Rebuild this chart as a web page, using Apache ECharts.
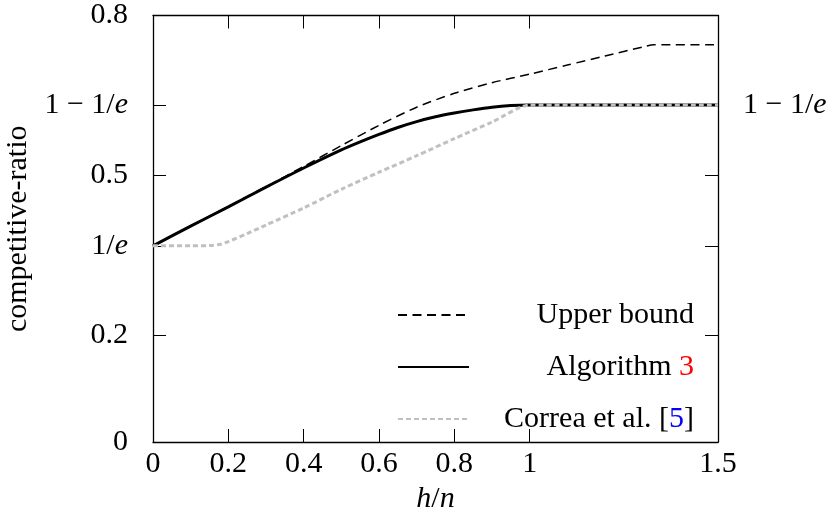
<!DOCTYPE html>
<html>
<head>
<meta charset="utf-8">
<script src="https://cdn.jsdelivr.net/npm/echarts@6/dist/echarts.min.js"></script>
<style>html,body{margin:0;padding:0;background:#fff}#c{width:835px;height:516px}</style>
</head>
<body>
<div id="c"></div>
<script>
// ---- data ----
const E1 = 1 / Math.E;           // 1/e
const E2 = 1 - 1 / Math.E;       // 1 - 1/e
const upperX = [0, 0.1, 0.2, 0.3, 0.4, 0.5, 0.6, 0.7, 0.8, 0.9, 1.0, 1.1, 1.2, 1.3, 1.33, 1.5];
const upperY = [0.368, 0.405, 0.442, 0.479, 0.517, 0.556, 0.594, 0.628, 0.654, 0.674, 0.690, 0.707, 0.724, 0.741, 0.745, 0.745];
const algoX = [0, 0.1, 0.2, 0.3, 0.4, 0.5, 0.55, 0.6, 0.65, 0.7, 0.75, 0.8, 0.85, 0.9, 0.95, 1.0, 1.5];
const algoY = [0.368, 0.405, 0.441, 0.478, 0.514, 0.548, 0.563, 0.577, 0.590, 0.601, 0.610, 0.617, 0.623, 0.628, 0.631, 0.632, 0.632];
const correaX = [0, 0.1, 0.15, 0.18, 0.2, 0.25, 0.3, 0.4, 0.5, 0.6, 0.7, 0.8, 0.9, 1.0, 1.5];
const correaY = [0.368, 0.368, 0.3685, 0.371, 0.376, 0.391, 0.407, 0.439, 0.474, 0.506, 0.537, 0.569, 0.600, 0.632, 0.632];
const xTicks = [0, 0.2, 0.4, 0.6, 0.8, 1, 1.5];
const yTicks = [0, 0.2, E1, 0.5, E2, 0.8];
const yTicksRight = [0.2, E1, 0.5, E2];
const yLabelsRight = [E2];
const seriesNames = ['Upper bound', 'Algorithm 3', 'Correa et al. [5]'];

const pairs = (xs, ys) => xs.map((x, i) => [x, ys[i]]);
const FONT = 'Liberation Serif';
const FS = 30;
const rich = {
  t: { fontFamily: FONT, fontSize: FS, color: '#000', align: 'right' },
  i: { fontFamily: FONT, fontSize: FS, color: '#000', fontStyle: 'italic', align: 'right' },
  r: { fontFamily: FONT, fontSize: FS, color: '#ff0000', align: 'right' },
  b: { fontFamily: FONT, fontSize: FS, color: '#0000ff', align: 'right' }
};
const near = (a, b) => Math.abs(a - b) < 1e-6;
function yFmt(v) {
  if (near(v, E1)) return '{t|1/}{i|e}';
  if (near(v, E2)) return '{t|1 − 1/}{i|e}';
  return '{t|' + String(Math.round(v * 10) / 10) + '}';
}
const legendFmt = {
  'Upper bound': '{t|Upper bound}',
  'Algorithm 3': '{t|Algorithm }{r|3}',
  'Correa et al. [5]': '{t|Correa et al. [}{b|5}{t|]}'
};

const chart = echarts.init(document.getElementById('c'), null, { renderer: 'canvas' });
const axLine = { show: true, onZero: false, lineStyle: { color: '#000', width: 1.3 } };
const tick = (vals) => ({ show: true, inside: true, length: 13, customValues: vals, lineStyle: { color: '#000', width: 1 } });

chart.setOption({
  animation: false,
  backgroundColor: '#fff',
  grid: { left: 153, top: 15.5, right: 117, bottom: 74, containLabel: false, outerBoundsMode: 'none' },
  xAxis: [
    {
      type: 'value', min: 0, max: 1.5, position: 'bottom',
      axisLine: axLine, axisTick: tick(xTicks), splitLine: { show: false },
      axisLabel: { customValues: xTicks, margin: 7, formatter: v => '{t|' + v + '}', rich: rich },
      name: '{i|h}{t|/}{i|n}', nameLocation: 'middle', nameGap: 42,
      nameTextStyle: { rich: rich }
    },
    {
      type: 'value', min: 0, max: 1.5, position: 'top',
      axisLine: axLine, axisTick: tick(xTicks), splitLine: { show: false },
      axisLabel: { show: false }
    }
  ],
  yAxis: [
    {
      type: 'value', min: 0, max: 0.8, position: 'left',
      axisLine: axLine, axisTick: tick(yTicks), splitLine: { show: false },
      axisLabel: { customValues: yTicks, margin: 25, formatter: yFmt, rich: rich },
      name: 'competitive-ratio', nameLocation: 'middle', nameGap: 115,
      nameTextStyle: { fontFamily: FONT, fontSize: FS, color: '#000' }
    },
    {
      type: 'value', min: 0, max: 0.8, position: 'right',
      axisLine: axLine, axisTick: tick(yTicksRight), splitLine: { show: false },
      axisLabel: { customValues: yLabelsRight, margin: 25, formatter: yFmt, rich: rich }
    }
  ],
  legend: {
    data: seriesNames, orient: 'vertical', left: 392, top: 295,
    itemWidth: 71, itemHeight: 14, itemGap: 22, selectedMode: false,
    itemStyle: { opacity: 0 },
    formatter: n => legendFmt[n],
    textStyle: { width: 220, lineHeight: 30, rich: rich }
  },
  series: [
    {
      name: seriesNames[0], type: 'line', data: pairs(upperX, upperY), symbol: 'none',
      smooth: 0.25,
      lineStyle: { color: '#000', width: 1.5, type: [9, 5.5] }, itemStyle: { color: '#000' }, z: 2
    },
    {
      name: seriesNames[1], type: 'line', data: pairs(algoX, algoY), symbol: 'none',
      smooth: 0.25,
      lineStyle: { color: '#000', width: 3, type: 'solid' }, itemStyle: { color: '#000' }, z: 3
    },
    {
      name: seriesNames[2], type: 'line', data: pairs(correaX, correaY), symbol: 'none',
      smooth: 0.25,
      lineStyle: { color: '#c0c0c0', width: 3, type: [5, 3] }, itemStyle: { color: '#c0c0c0' }, z: 4
    }
  ]
});
</script>
</body>
</html>
